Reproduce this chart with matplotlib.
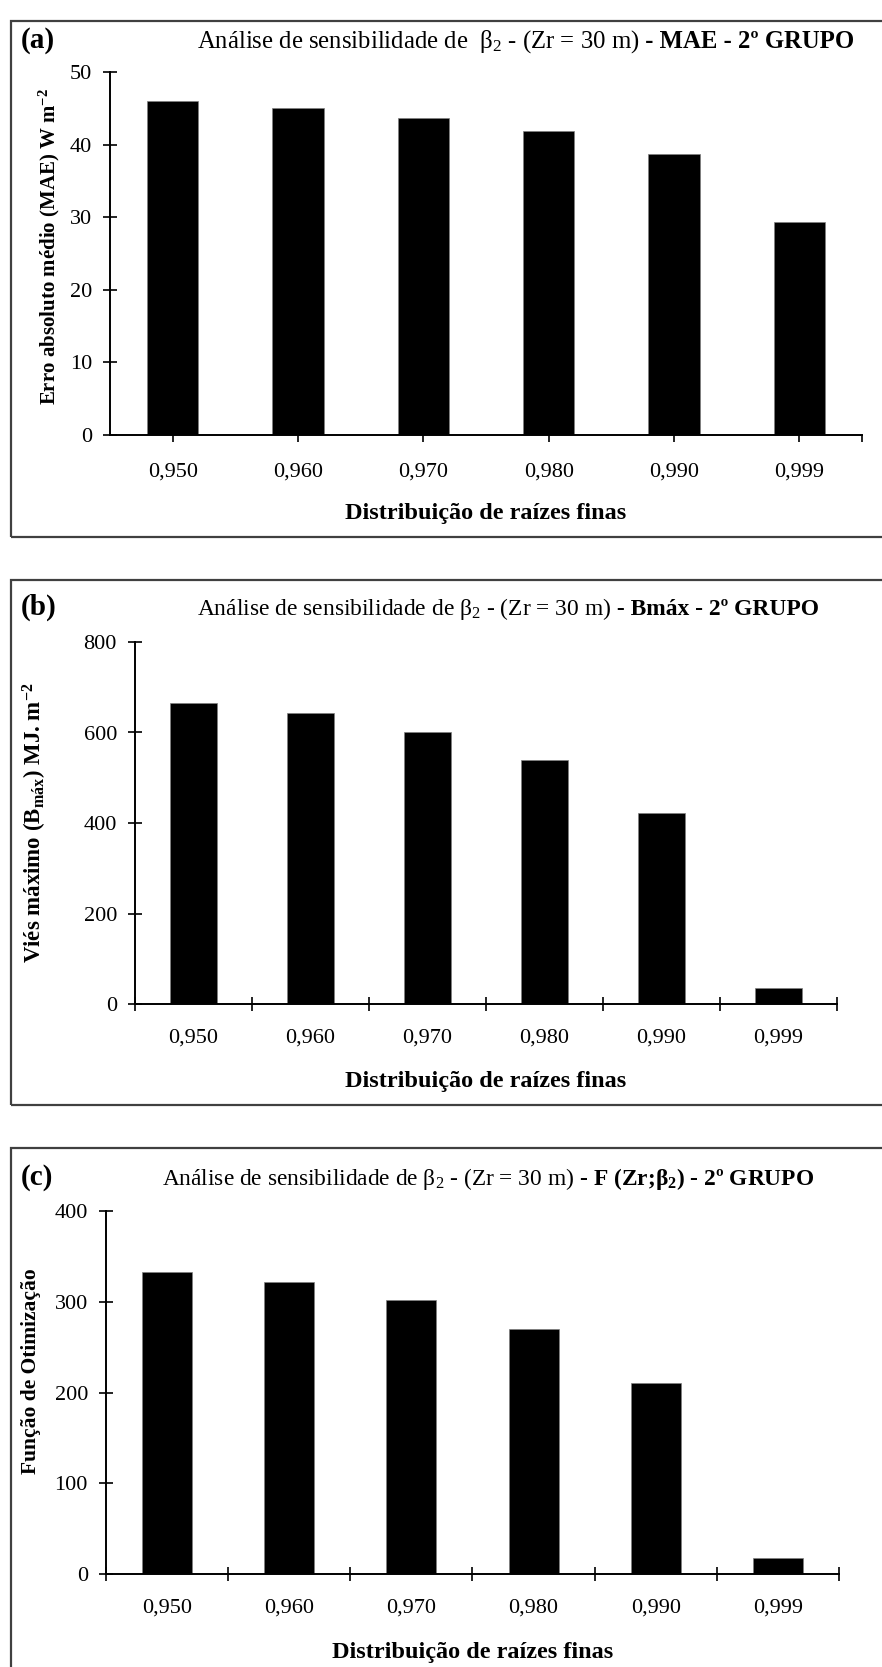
import numpy as np
import matplotlib
matplotlib.use("Agg")
import matplotlib.pyplot as plt
from matplotlib.patches import Rectangle
from matplotlib.text import Annotation

plt.rcParams['font.family'] = ['Liberation Serif', 'DejaVu Serif']
plt.rcParams['mathtext.fontset'] = 'custom'
plt.rcParams['mathtext.rm'] = 'Liberation Serif'
plt.rcParams['mathtext.it'] = 'Liberation Serif:italic'
plt.rcParams['mathtext.bf'] = 'Liberation Serif:bold'

categories = ["0,950", "0,960", "0,970", "0,980", "0,990", "0,999"]
mae = [46.0, 45.1, 43.7, 41.9, 38.7, 29.4]
bmax = [665, 643, 601, 539, 423, 35]
fobj = [333, 322, 302, 270, 211, 18]

W, H = 882, 1667
fig = plt.figure(figsize=(W / 100, H / 100), dpi=100)


def fx(x):
    return x / W


def fy(y):
    return 1 - y / H


def box(top, bottom):
    fig.patches.append(Rectangle((fx(11), fy(bottom)), fx(900) - fx(11), fy(top) - fy(bottom),
                                 transform=fig.transFigure, fill=False,
                                 edgecolor="#404040", linewidth=1.6))


def title(y, tag, normal, bold, x_txt, size):
    fig.text(fx(21), fy(y), tag, fontsize=21, fontweight="bold", va="baseline")
    t1 = fig.text(fx(x_txt), fy(y), normal, fontsize=size, va="baseline")
    fig.add_artist(Annotation(bold, xy=(1, fy(y)), xycoords=(t1, "figure fraction"),
                              fontsize=size, fontweight="bold", va="baseline", ha="left",
                              annotation_clip=False))


def panel(left, right, top, bottom, values, ymax, ystep, between):
    ax = fig.add_axes([fx(left), fy(bottom), fx(right) - fx(left), fy(top) - fy(bottom)])
    x = np.arange(len(values))
    ax.bar(x, values, width=0.41, color="black", edgecolor="#808080", linewidth=0.5)
    ax.set_xlim(-0.5, len(values) - 0.5)
    ax.set_ylim(0, ymax)
    ax.set_yticks(np.arange(0, ymax + 1, ystep))
    ax.spines[["top", "right"]].set_visible(False)
    ax.spines[["left", "bottom"]].set_linewidth(1.4)
    ax.tick_params(axis="y", direction="inout", length=10, width=1.2, labelsize=16, pad=8)
    if between:
        ax.set_xticks(np.arange(-0.5, len(values)), [""] * (len(values) + 1))
        ax.set_xticks(x, categories, minor=True)
        ax.tick_params(axis="x", which="major", direction="inout", length=10, width=1.2)
        ax.tick_params(axis="x", which="minor", length=0, labelsize=16, pad=18)
    else:
        ax.set_xticks(x, categories)
        ax.set_xticks([len(values) - 0.5], [""], minor=True)
        ax.tick_params(axis="x", which="both", direction="out", length=5, width=1.2,
                       labelsize=16, pad=15)
    fig.text(fx((left + right) / 2), fy(bottom + 78), "Distribuição de raízes finas",
             fontsize=17.5, fontweight="bold", ha="center", va="center")
    return ax


# (a)
box(21, 537)
title(48, "(a)", r"Análise de sensibilidade de  $\mathrm{\beta}_2$ - (Zr = 30 m)",
      " - MAE - 2º GRUPO", 197, 17.8)
panel(110, 862, 72, 435, mae, 50, 10, between=False)
fig.text(fx(49), fy(246), r"Erro absoluto médio (MAE) W m$^{\mathbf{-2}}$",
         fontsize=15, fontweight="bold", rotation=90, ha="center", va="center")

# (b)
box(580, 1105)
title(615, "(b)", r"Análise de sensibilidade de $\mathrm{\beta}_2$ - (Zr = 30 m)",
      " - Bmáx - 2º GRUPO", 197, 16.9)
panel(135, 837, 642, 1004, bmax, 800, 200, between=True)
fig.text(fx(35), fy(823), r"Viés máximo (B$_{\mathbf{máx}}$) MJ. m$^{\mathbf{-2}}$",
         fontsize=16.5, fontweight="bold", rotation=90, ha="center", va="center")

# (c)
box(1148, 1700)
title(1185, "(c)", r"Análise de sensibilidade de $\mathrm{\beta}_2$ - (Zr = 30 m)",
      r" - F (Zr;$\mathbf{\beta_2}$) - 2º GRUPO", 162, 16.8)
panel(106, 839, 1211, 1574, fobj, 400, 100, between=True)
fig.text(fx(31), fy(1371), "Função de Otimização",
         fontsize=15.5, fontweight="bold", rotation=90, ha="center", va="center")

fig.savefig("out.png", dpi=100)
